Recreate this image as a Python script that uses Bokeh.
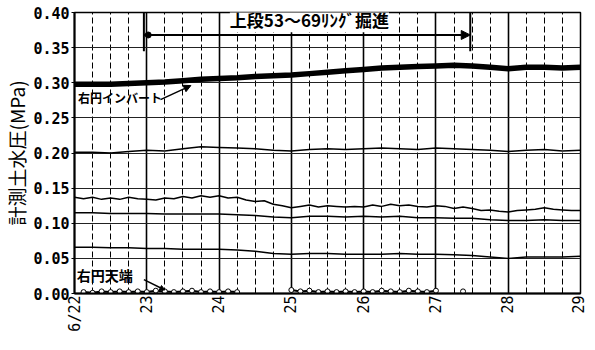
import math
from bokeh.plotting import figure
from bokeh.models import FixedTicker, NumeralTickFormatter, Label, Arrow, NormalHead
from bokeh.core.properties import value
from bokeh.embed import file_html
from bokeh.resources import INLINE

nan = float("nan")

# ---- data (x = day of June, 22.0 = 6/22 00:00) ----
x_tick_values = [22, 23, 24, 25, 26, 27, 28, 29]
x_tick_labels = ["6/22", "23", "24", "25", "26", "27", "28", "29"]
x_minor_ticks = [22.25, 22.5, 22.75, 23.25, 23.5, 23.75, 24.25, 24.5, 24.75,
                 25.25, 25.5, 25.75, 26.25, 26.5, 26.75, 27.25, 27.5, 27.75,
                 28.25, 28.5, 28.75]
y_tick_values = [0.0, 0.05, 0.10, 0.15, 0.20, 0.25, 0.30, 0.35, 0.40]

t6 = [22.0, 22.25, 22.5, 22.75, 23.0, 23.25, 23.5, 23.75, 24.0, 24.25, 24.5,
      24.75, 25.0, 25.25, 25.5, 25.75, 26.0, 26.25, 26.5, 26.75, 27.0, 27.25,
      27.5, 27.75, 28.0, 28.25, 28.5, 28.75, 29.0]
t3 = [22.0, 22.125, 22.25, 22.375, 22.5, 22.625, 22.75, 22.875, 23.0, 23.125,
      23.25, 23.375, 23.5, 23.625, 23.75, 23.875, 24.0, 24.125, 24.25, 24.375,
      24.5, 24.625, 24.75, 24.875, 25.0, 25.125, 25.25, 25.375, 25.5, 25.625,
      25.75, 25.875, 26.0, 26.125, 26.25, 26.375, 26.5, 26.625, 26.75, 26.875,
      27.0, 27.125, 27.25, 27.375, 27.5, 27.625, 27.75, 27.875, 28.0, 28.125,
      28.25, 28.375, 28.5, 28.625, 28.75, 28.875, 29.0]

# 右円インバート (thick line)
invert = [0.298, 0.298, 0.298, 0.299, 0.300, 0.301, 0.303, 0.305, 0.306, 0.307,
          0.309, 0.310, 0.311, 0.313, 0.315, 0.317, 0.319, 0.321, 0.322, 0.323,
          0.324, 0.325, 0.324, 0.322, 0.320, 0.322, 0.322, 0.321, 0.322]
# ~0.20 series
s020 = [0.201, 0.201, 0.200, 0.202, 0.204, 0.203, 0.206, 0.209, 0.208, 0.207,
        0.206, 0.204, 0.203, 0.205, 0.206, 0.205, 0.206, 0.207, 0.206, 0.205,
        0.207, 0.206, 0.205, 0.204, 0.202, 0.204, 0.205, 0.203, 0.204]
# ~0.13 wavy series (3-hourly)
s013 = [0.137, 0.135, 0.137, 0.134, 0.136, 0.134, 0.137, 0.135, 0.134, 0.133,
        0.136, 0.135, 0.138, 0.136, 0.139, 0.137, 0.139, 0.136, 0.137, 0.133,
        0.131, 0.132, 0.127, 0.125, 0.122, 0.124, 0.126, 0.123, 0.125, 0.124,
        0.123, 0.124, 0.123, 0.126, 0.124, 0.127, 0.125, 0.126, 0.124, 0.123,
        0.125, 0.124, 0.121, 0.123, 0.121, 0.118, 0.119, 0.117, 0.116, 0.118,
        0.119, 0.120, 0.122, 0.120, 0.119, 0.118, 0.118]
# ~0.11 series
s011 = [0.115, 0.115, 0.114, 0.114, 0.114, 0.113, 0.113, 0.113, 0.113, 0.112,
        0.111, 0.109, 0.108, 0.110, 0.110, 0.109, 0.110, 0.109, 0.110, 0.108,
        0.108, 0.107, 0.107, 0.105, 0.104, 0.104, 0.105, 0.104, 0.104]
# ~0.06 series
s006 = [0.066, 0.066, 0.065, 0.065, 0.064, 0.064, 0.063, 0.063, 0.063, 0.062,
        0.060, 0.057, 0.056, 0.057, 0.057, 0.056, 0.056, 0.056, 0.057, 0.056,
        0.056, 0.055, 0.054, 0.052, 0.050, 0.052, 0.052, 0.052, 0.053]
# 右円天端 (circles near zero)
t_crown = [22.125, 22.25, 22.375, 22.5, 22.625, 22.75, 22.875, 23.0, 23.125,
           23.25, 23.375, 23.5, 23.625, 23.75, 23.875, 24.0, 24.125, 24.25, nan,
           25.0, 25.125, 25.25, 25.375, 25.5, 25.625, 25.75, 25.875, 26.0,
           26.125, 26.25, 26.375, 26.5, 26.625, 26.75, 26.875, 27.0, nan, 27.375]
crown = [0.002, 0.001, 0.003, 0.002, 0.003, 0.002, 0.003, 0.002, 0.004, 0.003,
         0.002, 0.003, 0.004, 0.002, 0.003, 0.002, 0.003, 0.002, nan, 0.005,
         0.003, 0.004, 0.002, 0.003, 0.002, 0.003, 0.002, 0.003, 0.002, 0.004,
         0.003, 0.002, 0.004, 0.003, 0.002, 0.004, nan, 0.003]

# annotation: excavation period
excav_start, excav_end = 22.96, 27.475
excav_arrow_y = 0.368
excav_bar_bottom = 0.345
excav_text = "上段53～69ﾘﾝｸﾞ掘進"

# ---- figure ----
p = figure(width=587, height=334, x_range=(22, 29), y_range=(0, 0.40),
           output_backend="svg", toolbar_location=None, title=None,
           min_border_left=73, min_border_right=7, min_border_top=12,
           min_border_bottom=38)
p.outline_line_color = "black"
p.outline_line_width = 1.5

p.xaxis.ticker = FixedTicker(ticks=x_tick_values, minor_ticks=x_minor_ticks)
p.xaxis.major_label_overrides = dict(zip(x_tick_values, x_tick_labels))
p.xaxis.major_label_orientation = math.pi / 2
p.xaxis.major_label_text_font = "DejaVu Sans Mono"
p.xaxis.major_label_text_font_size = "15px"
p.xaxis.major_label_text_color = "black"
p.xaxis.major_label_standoff = 2
p.xaxis.major_tick_out = 0
p.xaxis.major_tick_in = 0
p.xaxis.minor_tick_out = 0
p.xaxis.minor_tick_in = 0
p.xaxis.major_tick_line_color = None
p.xaxis.minor_tick_line_color = None
p.xaxis.axis_line_width = 2

p.yaxis.ticker = FixedTicker(ticks=y_tick_values)
p.yaxis.formatter = NumeralTickFormatter(format="0.00")
p.yaxis.major_label_text_font = "DejaVu Sans Mono"
p.yaxis.major_label_text_font_style = "bold"
p.yaxis.major_label_text_font_size = "15px"
p.yaxis.major_label_text_color = "black"
p.yaxis.major_tick_out = 3
p.yaxis.major_tick_in = 0
p.yaxis.minor_tick_out = 0
p.yaxis.minor_tick_in = 0
p.yaxis.major_label_standoff = 2
p.yaxis.minor_tick_line_color = None
p.yaxis.axis_line_width = 2
p.yaxis.axis_label = "計測土水圧(MPa)"
p.yaxis.axis_label_text_font = "Noto Sans CJK JP"
p.yaxis.axis_label_text_font_style = "normal"
p.yaxis.axis_label_text_font_size = "19px"
p.yaxis.axis_label_text_color = "black"
p.yaxis.axis_label_standoff = 0

p.xgrid.grid_line_color = "black"
p.xgrid.grid_line_width = 1.6
p.xgrid.minor_grid_line_color = "black"
p.xgrid.minor_grid_line_dash = "6 3"
p.xgrid.minor_grid_line_width = 1
p.ygrid.ticker = FixedTicker(ticks=y_tick_values)
p.ygrid.grid_line_color = "#222222"
p.ygrid.grid_line_width = 1

# series
p.line(t6, invert, line_color="black", line_width=5.5)
p.line(t6, s020, line_color="black", line_width=1.5)
p.line(t3, s013, line_color="black", line_width=1.5)
p.line(t6, s011, line_color="black", line_width=1.5)
p.line(t6, s006, line_color="black", line_width=1.5)
p.line(t_crown, crown, line_color="black", line_width=2)
p.scatter(t_crown, crown, marker="circle", size=5, fill_color="white",
          line_color="black", line_width=1)

# excavation annotation
p.segment(x0=[excav_start, excav_end], y0=[excav_bar_bottom, excav_bar_bottom],
          x1=[excav_start, excav_end], y1=[0.40, 0.40],
          line_color="black", line_width=2)
p.add_layout(Arrow(x_start=excav_start, y_start=excav_arrow_y,
                   x_end=excav_end, y_end=excav_arrow_y,
                   line_color="black", line_width=2,
                   end=NormalHead(size=9, fill_color="black", line_color="black")))
p.scatter([excav_start + 0.06], [excav_arrow_y], marker="circle", size=6,
          fill_color="black", line_color="black")
p.add_layout(Label(x=25.25, y=0.372, text=excav_text, text_align="center",
                   text_baseline="bottom", text_font="Noto Sans CJK JP",
                   text_font_style="bold", text_font_size="17px",
                   text_color="black", background_fill_color="white"))

# series labels
p.add_layout(Label(x=22.05, y=0.279, text="右円インバート", text_align="left",
                   text_baseline="middle", text_font="Noto Sans CJK JP",
                   text_font_style="bold", text_font_size="12px",
                   text_color="black"))
p.add_layout(Arrow(x_start=23.19, y_start=0.276, x_end=23.61, y_end=0.296,
                   line_color="black", line_width=1.5,
                   end=NormalHead(size=7, fill_color="black", line_color="black")))
p.add_layout(Label(x=22.03, y=0.027, text="右円天端", text_align="left",
                   text_baseline="middle", text_font="Noto Sans CJK JP",
                   text_font_style="bold", text_font_size="14px",
                   text_color="black"))
p.add_layout(Arrow(x_start=22.96, y_start=0.0197, x_end=23.25, y_end=0.005,
                   line_color="black", line_width=1.5,
                   end=NormalHead(size=5, fill_color="black", line_color="black")))

open("out.html", "w").write(file_html(p, INLINE))
